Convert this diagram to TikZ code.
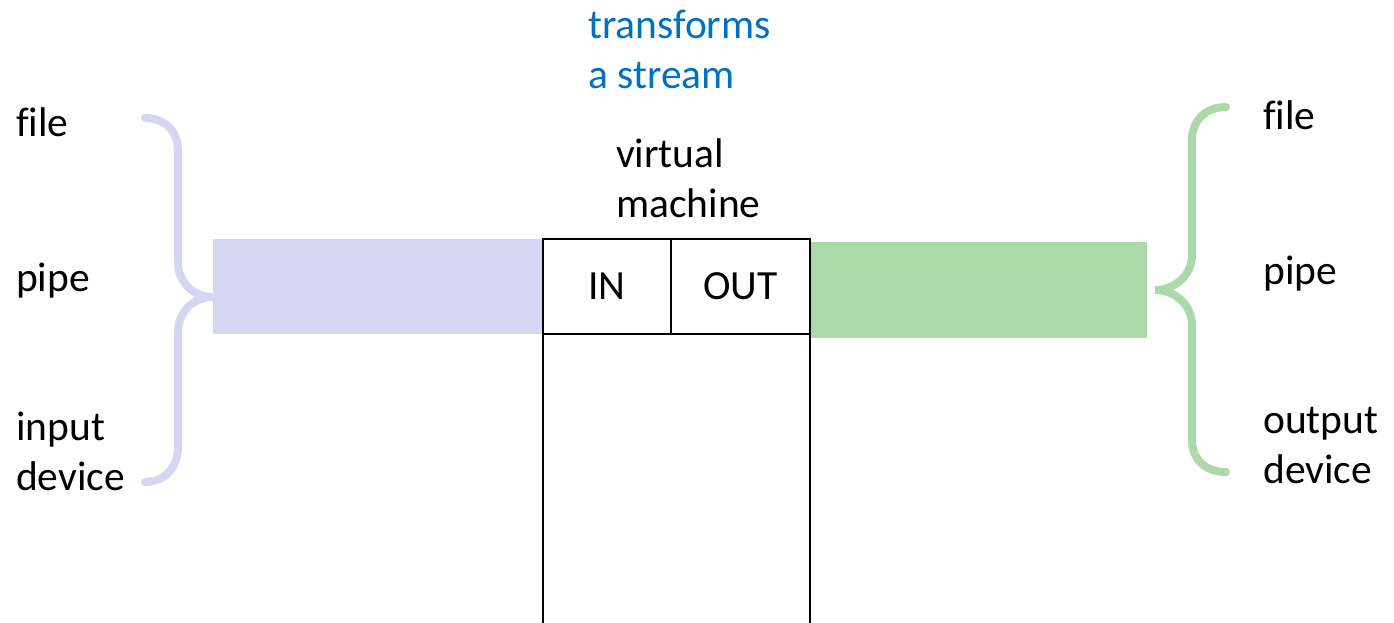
\documentclass[tikz,border=0pt]{standalone}
\usepackage{fontspec}
\setmainfont{Carlito}[Ligatures=NoCommon]
\definecolor{inlav}{HTML}{D6D6F3}
\definecolor{outgreen}{HTML}{ADD8AA}
\definecolor{noteblue}{HTML}{0070C0}
\tikzset{
  lbl/.style={anchor=base west, inner sep=0pt, align=left,
    font=\fontsize{41.5}{50}\selectfont},
  cell/.style={draw=black, line width=2pt, inner sep=0pt,
    font=\fontsize{41.5}{50}\selectfont},
  brace/.style={line width=8pt, line cap=round},
}
\begin{document}
\begin{tikzpicture}[x=1pt,y=-1pt]
\useasboundingbox (0,0) rectangle (1394,622);
\begin{scope}
\clip (0,0) rectangle (1394,622);

% streams into and out of the machine
\fill[inlav] (213,239) rectangle (543,334);
\fill[outgreen] (810,242) rectangle (1147,338);

% the virtual machine with its IN and OUT ports
\node[cell, minimum width=128pt, minimum height=95pt] (in) at (607,286.5) {IN};
\node[cell, minimum width=139pt, minimum height=95pt] (out) at (740.5,286.5) {OUT};
\node[cell, minimum width=267pt, minimum height=306pt] (body) at (676.5,487) {};

% left brace gathering the sources
\coordinate (ltip) at (213,297);
\draw[brace, inlav] (145,118) .. controls (165,118) and (178,131) .. (178,151)
  -- (178,262) .. controls (178,282) and (193,297) .. (ltip)
  .. controls (193,297) and (178,312) .. (178,332)
  -- (178,447) .. controls (178,467) and (165,482) .. (145,482);

% right brace gathering the sinks
\coordinate (rtip) at (1155,290);
\draw[brace, outgreen] (1226,107) .. controls (1206,107) and (1192,120) .. (1192,140)
  -- (1192,255) .. controls (1192,275) and (1175,290) .. (rtip)
  .. controls (1175,290) and (1192,305) .. (1192,325)
  -- (1192,440) .. controls (1192,460) and (1206,472) .. (1226,472);
\end{scope}

% labels (multi-line labels are placed by the baseline of their last line)
\node[lbl] (lfile) at (16,136) {file};
\node[lbl] (lpipe) at (16,291) {pipe};
\node[lbl] (ldev) at (16,490) {input\\device};
\node[lbl] (rfile) at (1263,129) {file};
\node[lbl] (rpipe) at (1263,284) {pipe};
\node[lbl] (rdev) at (1263,483) {output\\device};
\node[lbl] (vm) at (616,217) {virtual\\machine};
\node[lbl, text=noteblue] (note) at (588,88) {transforms\\a stream};
\end{tikzpicture}
\end{document}
